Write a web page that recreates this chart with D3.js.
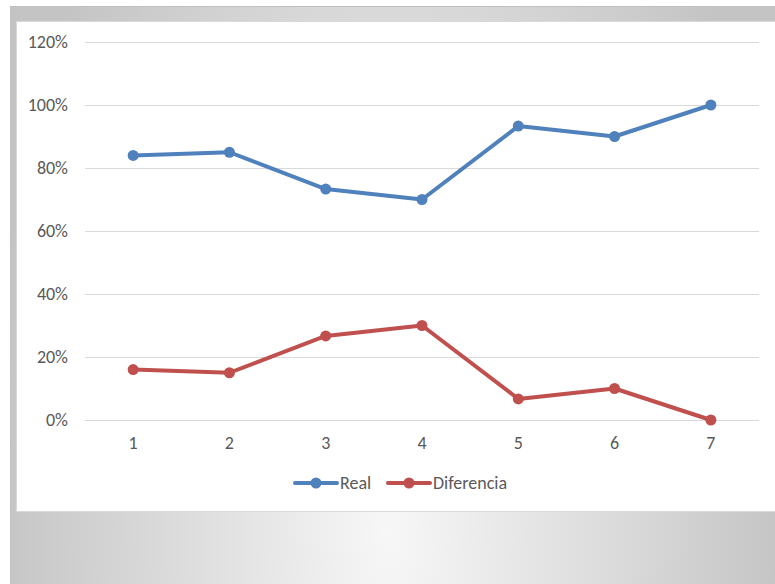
<!DOCTYPE html>
<html>
<head>
<meta charset="utf-8">
<script src="https://cdn.jsdelivr.net/npm/d3@7"></script>
<style>
  body { margin: 0; background: #fff; }
  svg { display: block; }
</style>
</head>
<body>
<svg id="chart" width="775" height="584"></svg>
<script>
var categories = ["1", "2", "3", "4", "5", "6", "7"];
var realValues = [0.84, 0.85, 0.733, 0.70, 0.933, 0.90, 1.00];
var difValues = [0.16, 0.15, 0.267, 0.30, 0.067, 0.10, 0.00];
var yTicks = [0, 0.2, 0.4, 0.6, 0.8, 1.0, 1.2];
var seriesNames = ["Real", "Diferencia"];
var seriesColors = ["#4f81bd", "#c0504d"];

var svg = d3.select("#chart");
var font = "Carlito, 'Liberation Sans', Arial, sans-serif";
var fontSize = 18;

// gray backdrop, light in the lower middle
var defs = svg.append("defs");
var grad = defs.append("radialGradient").attr("id", "bg")
    .attr("gradientUnits", "userSpaceOnUse")
    .attr("cx", 390).attr("cy", 530).attr("r", 400)
    .attr("gradientTransform", "translate(390,530) scale(1,2.2) translate(-390,-530)");
grad.append("stop").attr("offset", "0%").attr("stop-color", "#f7f7f7");
grad.append("stop").attr("offset", "100%").attr("stop-color", "#c4c4c4");

svg.append("rect").attr("x", 10.5).attr("y", 6.5).attr("width", 770).attr("height", 580)
    .attr("fill", "url(#bg)").attr("stroke", "#c0c0c0").attr("stroke-width", 1);
svg.append("rect").attr("x", 16.5).attr("y", 21.5).attr("width", 765).attr("height", 490)
    .attr("fill", "#fff").attr("stroke", "#d9d9d9").attr("stroke-width", 1);

var x = d3.scaleBand().domain(categories).range([85, 759]);
var y = d3.scaleLinear().domain([0, 1.2]).range([420, 42]);

// gridlines
svg.append("g").selectAll("line").data(yTicks).enter().append("line")
    .attr("x1", 85).attr("x2", 759)
    .attr("y1", function(d){ return Math.round(y(d)) + 0.5; })
    .attr("y2", function(d){ return Math.round(y(d)) + 0.5; })
    .attr("stroke", "#d9d9d9").attr("stroke-width", 1);

// y axis labels
var yAxis = d3.axisLeft(y).tickValues(yTicks).tickSize(0).tickPadding(0)
    .tickFormat(d3.format(".0%"));
var gy = svg.append("g").attr("transform", "translate(68,0)").call(yAxis);
gy.select(".domain").remove();
gy.selectAll("text").attr("font-family", font).attr("font-size", fontSize).attr("fill", "#595959");

// x axis labels
var xAxis = d3.axisBottom(x).tickSize(0).tickPadding(0);
var gx = svg.append("g").attr("transform", "translate(0,436)").call(xAxis);
gx.select(".domain").remove();
gx.selectAll("text").attr("font-family", font).attr("font-size", fontSize).attr("fill", "#595959");

var series = [realValues, difValues];
var line = d3.line()
    .x(function(d, i){ return x(categories[i]) + x.bandwidth() / 2; })
    .y(function(d){ return y(d); });

series.forEach(function(vals, s){
    svg.append("path").datum(vals)
        .attr("d", line)
        .attr("fill", "none")
        .attr("stroke", seriesColors[s])
        .attr("stroke-width", 4)
        .attr("stroke-linejoin", "round")
        .attr("stroke-linecap", "round");
    svg.append("g").selectAll("circle").data(vals).enter().append("circle")
        .attr("cx", function(d, i){ return x(categories[i]) + x.bandwidth() / 2; })
        .attr("cy", function(d){ return y(d); })
        .attr("r", 5.5)
        .attr("fill", seriesColors[s]);
});

// legend
var legendX = [295, 388];
var legend = svg.append("g").selectAll("g").data(seriesNames).enter().append("g")
    .attr("transform", function(d, i){ return "translate(" + legendX[i] + ",483)"; });
legend.append("line").attr("x1", 0).attr("x2", 42).attr("y1", 0).attr("y2", 0)
    .attr("stroke", function(d, i){ return seriesColors[i]; })
    .attr("stroke-width", 4).attr("stroke-linecap", "round");
legend.append("circle").attr("cx", 21).attr("cy", 0).attr("r", 5.5)
    .attr("fill", function(d, i){ return seriesColors[i]; });
legend.append("text").attr("x", 45).attr("y", 6)
    .attr("font-family", font).attr("font-size", fontSize).attr("fill", "#595959")
    .text(function(d){ return d; });
</script>
</body>
</html>
